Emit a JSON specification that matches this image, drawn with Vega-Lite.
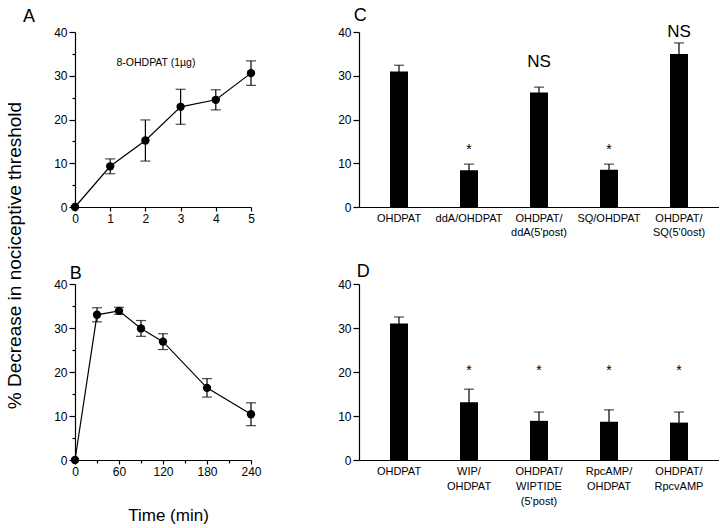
{
  "$schema": "https://vega.github.io/schema/vega-lite/v6.json",
  "autosize": {"type": "pad"},
  "padding": {"left": 5, "top": 7, "right": 0, "bottom": 5},
  "background": "white",
  "config": {
    "font": "Liberation Sans",
    "view": {"stroke": null},
    "axis": {
      "grid": false,
      "domainColor": "black",
      "domainWidth": 1.2,
      "tickColor": "black",
      "tickWidth": 1.2,
      "labelColor": "black",
      "titleColor": "black",
      "labelFont": "Liberation Sans",
      "titleFont": "Liberation Sans",
      "labelFontSize": 12,
      "labelPadding": 2
    },
    "title": {"font": "Liberation Sans", "color": "black", "fontWeight": 400}
  },
  "datasets": {
    "doseA": [
      {"dose": 0, "pct": 0, "err": 0},
      {"dose": 1, "pct": 9.3, "err": 1.7},
      {"dose": 2, "pct": 15.2, "err": 4.7},
      {"dose": 3, "pct": 22.9, "err": 4.0},
      {"dose": 4, "pct": 24.5, "err": 2.3},
      {"dose": 5, "pct": 30.6, "err": 2.8}
    ],
    "labelA": [
      {"dose": 2.3, "pct": 33, "text": "8-OHDPAT (1µg)"}
    ],
    "timeB": [
      {"min": 0, "pct": 0, "err": 0},
      {"min": 30, "pct": 33.0, "err": 1.6},
      {"min": 60, "pct": 33.9, "err": 0.8},
      {"min": 90, "pct": 29.9, "err": 1.8},
      {"min": 120, "pct": 26.9, "err": 1.8},
      {"min": 180, "pct": 16.4, "err": 2.1},
      {"min": 240, "pct": 10.4, "err": 2.6}
    ],
    "barsC": [
      {"group": "OHDPAT", "pct": 31.0, "err": 1.4},
      {"group": "ddA/OHDPAT", "pct": 8.4, "err": 1.4},
      {"group": "OHDPAT/|ddA(5'post)", "pct": 26.2, "err": 1.2},
      {"group": "SQ/OHDPAT", "pct": 8.5, "err": 1.3},
      {"group": "OHDPAT/|SQ(5'0ost)", "pct": 35.0, "err": 2.5}
    ],
    "notesC": [
      {"group": "ddA/OHDPAT", "note": "*", "y": 13.1},
      {"group": "OHDPAT/|ddA(5'post)", "note": "NS", "y": 33.2},
      {"group": "SQ/OHDPAT", "note": "*", "y": 13.1},
      {"group": "OHDPAT/|SQ(5'0ost)", "note": "NS", "y": 40.0}
    ],
    "barsD": [
      {"group": "OHDPAT", "pct": 31.0, "err": 1.5},
      {"group": "WIP/|OHDPAT", "pct": 13.1, "err": 3.0},
      {"group": "OHDPAT/|WIPTIDE|(5'post)", "pct": 8.9, "err": 2.0},
      {"group": "RpcAMP/|OHDPAT", "pct": 8.7, "err": 2.7},
      {"group": "OHDPAT/|RpcvAMP", "pct": 8.5, "err": 2.4}
    ],
    "notesD": [
      {"group": "WIP/|OHDPAT", "note": "*", "y": 20.3},
      {"group": "OHDPAT/|WIPTIDE|(5'post)", "note": "*", "y": 20.3},
      {"group": "RpcAMP/|OHDPAT", "note": "*", "y": 20.3},
      {"group": "OHDPAT/|RpcvAMP", "note": "*", "y": 20.3}
    ]
  },
  "bounds": "flush",
  "columns": 2,
  "spacing": {"row": 77, "column": 108},
  "concat": [
    {
      "width": 176,
      "height": 175,
      "title": {"text": "A", "anchor": "start", "dx": 18, "offset": 0, "fontSize": 18, "fontWeight": 400},
      "encoding": {
        "x": {"field": "dose", "type": "quantitative", "scale": {"domain": [0, 5]},
          "axis": {"title": null, "values": [0, 1, 2, 3, 4, 5], "tickSize": 4, "labelFlush": false}},
        "y": {"field": "pct", "type": "quantitative", "scale": {"domain": [0, 40]},
          "axis": {
            "title": "% Decrease in nociceptive threshold",
            "titleFontSize": 19, "titleFontWeight": 400,
            "titleX": -61, "titleY": 223, "titleAngle": -90,
            "titleAlign": "center", "titleBaseline": "middle",
            "values": [0, 5, 10, 15, 20, 25, 30, 35, 40],
            "labelExpr": "datum.value % 10 === 0 ? datum.label : ''",
            "tickSize": {"condition": {"test": "datum.value % 10 !== 0", "value": 3}, "value": 6}
          }}
      },
      "layer": [
        {"data": {"name": "doseA"}, "mark": {"type": "line", "color": "black", "strokeWidth": 1.2}},
        {"data": {"name": "doseA"}, "transform": [{"filter": "datum.err > 0"}],
          "mark": {"type": "errorbar", "color": "black", "thickness": 1.2, "ticks": {"size": 10, "color": "black", "thickness": 1.2}},
          "encoding": {"yError": {"field": "err"}}},
        {"data": {"name": "doseA"}, "mark": {"type": "point", "filled": true, "color": "black", "opacity": 1, "size": 70}},
        {"data": {"name": "labelA"}, "mark": {"type": "text", "fontSize": 10.5, "fontWeight": 400, "color": "black"},
          "encoding": {"text": {"field": "text"}}}
      ]
    },
    {
      "width": 360,
      "height": 175,
      "title": {"text": "C", "anchor": "start", "dx": 16, "offset": -2, "fontSize": 18, "fontWeight": 400},
      "layer": [
        {
          "data": {"name": "barsC"},
          "encoding": {
            "x": {"field": "group", "type": "nominal", "sort": null,
              "scale": {"paddingInner": 0.743, "paddingOuter": 0.443},
              "axis": {"title": null, "labelAngle": 0, "ticks": false, "labelExpr": "split(datum.label, '|')",
                "labelBaseline": "top", "labelPadding": 5, "labelFontSize": 11, "labelLineHeight": 14}},
            "y": {"field": "pct", "type": "quantitative", "scale": {"domain": [0, 40]},
              "axis": {"title": null, "values": [0, 5, 10, 15, 20, 25, 30, 35, 40],
                "labelExpr": "datum.value % 10 === 0 ? datum.label : ''",
                "tickSize": {"condition": {"test": "datum.value % 10 !== 0", "value": 3}, "value": 6}}}
          },
          "layer": [
            {"mark": {"type": "bar", "color": "black"}},
            {"mark": {"type": "errorbar", "color": "black", "thickness": 1.2, "ticks": {"size": 10, "color": "black", "thickness": 1.2}},
              "encoding": {"yError": {"field": "err"}}}
          ]
        },
        {
          "data": {"name": "notesC"},
          "mark": {"type": "text", "color": "black", "baseline": "middle"},
          "encoding": {
            "x": {"field": "group", "type": "nominal", "sort": null},
            "y": {"field": "y", "type": "quantitative"},
            "text": {"field": "note"},
            "size": {"condition": {"test": "datum.note === 'NS'", "value": 17}, "value": 14}
          }
        }
      ]
    },
    {
      "width": 176,
      "height": 176,
      "title": {"text": "B", "anchor": "start", "dx": 16, "offset": -5, "fontSize": 18, "fontWeight": 400},
      "data": {"name": "timeB"},
      "encoding": {
        "x": {"field": "min", "type": "quantitative", "scale": {"domain": [0, 240]},
          "axis": {"title": "Time (min)", "titleFontSize": 17, "titleFontWeight": 400, "titlePadding": 30, "titleX": 93,
            "values": [0, 30, 60, 90, 120, 150, 180, 210, 240],
            "labelExpr": "datum.value % 60 === 0 ? datum.label : ''",
            "labelFlush": false,
            "tickSize": {"condition": {"test": "datum.value % 60 !== 0", "value": 3}, "value": 4}}},
        "y": {"field": "pct", "type": "quantitative", "scale": {"domain": [0, 40]},
          "axis": {"title": null, "values": [0, 5, 10, 15, 20, 25, 30, 35, 40],
            "labelExpr": "datum.value % 10 === 0 ? datum.label : ''",
            "tickSize": {"condition": {"test": "datum.value % 10 !== 0", "value": 3}, "value": 6}}}
      },
      "layer": [
        {"mark": {"type": "line", "color": "black", "strokeWidth": 1.2}},
        {"transform": [{"filter": "datum.err > 0"}],
          "mark": {"type": "errorbar", "color": "black", "thickness": 1.2, "ticks": {"size": 10, "color": "black", "thickness": 1.2}},
          "encoding": {"yError": {"field": "err"}}},
        {"mark": {"type": "point", "filled": true, "color": "black", "opacity": 1, "size": 70}}
      ]
    },
    {
      "width": 360,
      "height": 176,
      "title": {"text": "D", "anchor": "start", "dx": 19, "offset": -3, "fontSize": 18, "fontWeight": 400},
      "layer": [
        {
          "data": {"name": "barsD"},
          "encoding": {
            "x": {"field": "group", "type": "nominal", "sort": null,
              "scale": {"paddingInner": 0.743, "paddingOuter": 0.443},
              "axis": {"title": null, "labelAngle": 0, "ticks": false, "labelExpr": "split(datum.label, '|')",
                "labelBaseline": "top", "labelPadding": 5, "labelFontSize": 11, "labelLineHeight": 15}},
            "y": {"field": "pct", "type": "quantitative", "scale": {"domain": [0, 40]},
              "axis": {"title": null, "values": [0, 5, 10, 15, 20, 25, 30, 35, 40],
                "labelExpr": "datum.value % 10 === 0 ? datum.label : ''",
                "tickSize": {"condition": {"test": "datum.value % 10 !== 0", "value": 3}, "value": 6}}}
          },
          "layer": [
            {"mark": {"type": "bar", "color": "black"}},
            {"mark": {"type": "errorbar", "color": "black", "thickness": 1.2, "ticks": {"size": 10, "color": "black", "thickness": 1.2}},
              "encoding": {"yError": {"field": "err"}}}
          ]
        },
        {
          "data": {"name": "notesD"},
          "mark": {"type": "text", "color": "black", "baseline": "middle", "fontSize": 14},
          "encoding": {
            "x": {"field": "group", "type": "nominal", "sort": null},
            "y": {"field": "y", "type": "quantitative"},
            "text": {"field": "note"}
          }
        }
      ]
    }
  ]
}
